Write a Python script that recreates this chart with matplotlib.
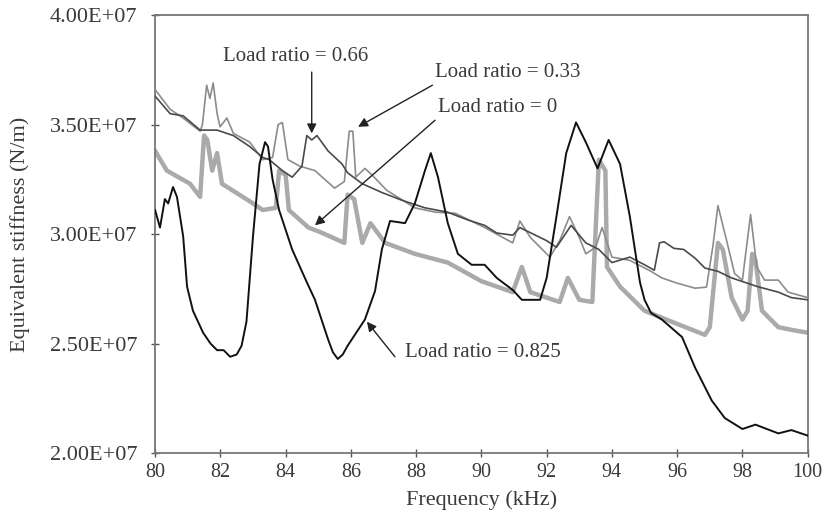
import matplotlib
matplotlib.use("Agg")
import matplotlib.pyplot as plt
from matplotlib.ticker import FuncFormatter
import numpy as np

# values in units of 1E+07 N/m, frequency in kHz
f_r0 = [80.0, 80.36, 81.07, 81.38, 81.5, 81.6, 81.75, 81.9, 82.05, 82.9, 83.3, 83.7, 83.8, 84.0, 84.1,
        84.7, 85.05, 85.8, 85.9, 86.1, 86.35, 86.6, 87.05, 87.96, 88.97, 90.0, 90.96, 91.24, 91.5,
        92.4, 92.65, 93.0, 93.4, 93.6, 93.8, 93.85, 94.25, 95.0, 96.0, 96.85, 97.0, 97.25, 97.4,
        97.67, 98.0, 98.16, 98.3, 98.4, 98.6, 99.1, 99.6, 100.0]
k_r0 = [3.38, 3.29, 3.23, 3.17, 3.45, 3.43, 3.29, 3.37, 3.23, 3.15, 3.11, 3.12, 3.29, 3.27, 3.11,
        3.03, 3.01, 2.96, 3.18, 3.16, 2.96, 3.05, 2.96, 2.91, 2.87, 2.785, 2.735, 2.85, 2.735,
        2.69, 2.80, 2.70, 2.69, 3.34, 3.29, 2.85, 2.76, 2.65, 2.59, 2.54, 2.575, 2.96, 2.93,
        2.71, 2.61, 2.65, 2.91, 2.88, 2.65, 2.575, 2.56, 2.55]

f_r33 = [80.0, 80.46, 80.86, 81.38, 81.45, 81.58, 81.68, 81.78, 81.9, 81.99, 82.2, 82.4, 82.9, 83.3,
         83.6, 83.77, 83.9, 84.07, 84.44, 84.9, 85.5, 85.8, 85.95, 86.06, 86.15, 86.43, 86.65, 87.1,
         87.96, 88.6, 89.2, 90.1, 90.96, 91.18, 91.5, 92.1, 92.4, 92.7, 93.0, 93.2, 93.5, 93.7,
         94.0, 94.55, 95.2, 95.53, 96.0, 96.55, 96.9, 97.1, 97.25, 97.5, 97.76, 98.0, 98.25,
         98.44, 98.68, 99.1, 99.4, 100.0]
k_r33 = [3.66, 3.57, 3.53, 3.47, 3.50, 3.68, 3.62, 3.69, 3.55, 3.49, 3.53, 3.46, 3.42, 3.34,
         3.35, 3.50, 3.51, 3.34, 3.31, 3.29, 3.21, 3.24, 3.47, 3.47, 3.26, 3.30, 3.27, 3.20,
         3.12, 3.10, 3.095, 3.03, 2.96, 3.06, 2.985, 2.895, 2.97, 3.08, 2.985, 2.91, 2.94, 3.03,
         2.895, 2.88, 2.83, 2.80, 2.776, 2.753, 2.758, 2.95, 3.13, 2.98, 2.82, 2.79, 3.09,
         2.85, 2.79, 2.79, 2.735, 2.71]

f_r66 = [80.0, 80.46, 80.86, 81.38, 81.9, 82.4, 82.9, 83.3, 83.5, 83.9, 84.2, 84.5, 84.65, 84.8,
         84.96, 85.3, 85.73, 85.9, 86.35, 86.95, 87.56, 88.27, 88.97, 89.58, 90.1, 90.47, 90.96,
         91.18, 92.0, 92.3, 92.75, 93.2, 93.6, 94.0, 94.55, 95.0, 95.3, 95.46, 95.6, 95.9, 96.2,
         96.55, 96.85, 97.25, 97.67, 98.07, 98.47, 99.1, 99.5, 100.0]
k_r66 = [3.63, 3.55, 3.54, 3.475, 3.475, 3.45, 3.40, 3.35, 3.34, 3.29, 3.26, 3.31, 3.45, 3.43,
         3.45, 3.38, 3.32, 3.28, 3.23, 3.19, 3.155, 3.12, 3.10, 3.065, 3.04, 3.005, 2.995,
         3.03, 2.97, 2.94, 3.04, 2.96, 2.93, 2.87, 2.895, 2.86, 2.835, 2.96, 2.965, 2.935, 2.93,
         2.89, 2.845, 2.83, 2.80, 2.78, 2.76, 2.735, 2.71, 2.70]

f_r825 = [80.0, 80.15, 80.3, 80.4, 80.55, 80.67, 80.86, 80.98, 81.16, 81.47, 81.7, 81.9, 82.1, 82.3,
          82.5, 82.65, 82.8, 83.0, 83.2, 83.37, 83.46, 83.6, 83.8, 84.2, 84.65, 84.9, 85.3, 85.45,
          85.6, 85.75, 85.9, 86.43, 86.74, 86.95, 87.2, 87.66, 87.96, 88.27, 88.45, 88.67, 88.97,
          89.28, 89.7, 90.1, 90.47, 90.96, 91.24, 91.8, 92.0, 92.3, 92.6, 92.9, 93.2, 93.56, 93.9,
          94.25, 94.55, 94.86, 95.0, 95.2, 95.53, 96.15, 96.55, 97.06, 97.46, 98.0, 98.4, 99.1,
          99.5, 100.0]
k_r825 = [3.11, 3.03, 3.16, 3.14, 3.215, 3.17, 2.99, 2.76, 2.65, 2.55, 2.50, 2.47, 2.47, 2.44,
          2.45, 2.49, 2.60, 2.99, 3.32, 3.42, 3.40, 3.25, 3.11, 2.93, 2.78, 2.70, 2.52, 2.46,
          2.43, 2.45, 2.49, 2.61, 2.74, 2.93, 3.06, 3.05, 3.14, 3.29, 3.37, 3.26, 3.05,
          2.91, 2.86, 2.86, 2.80, 2.745, 2.70, 2.70, 2.80, 3.08, 3.37, 3.51, 3.42, 3.30, 3.43,
          3.32, 3.08, 2.78, 2.70, 2.64, 2.61, 2.53, 2.39, 2.24, 2.16, 2.11, 2.13, 2.09,
          2.105, 2.08]

plt.rcParams['font.family'] = ['Liberation Serif', 'DejaVu Serif']
txt = '#3a3a3a'

fig = plt.figure(figsize=(8.25, 5.22), dpi=100)
ax = fig.add_axes([0.188, 0.132, 0.791, 0.839])

sc = 1e7
ax.plot(f_r0, np.array(k_r0) * sc, color='#aaaaaa', lw=3.2, solid_joinstyle='round', zorder=2)
ax.plot(f_r33, np.array(k_r33) * sc, color='#8c8c8c', lw=1.2, zorder=3)
ax.plot(f_r66, np.array(k_r66) * sc, color='#4a4a4a', lw=1.2, zorder=3)
ax.plot(f_r825, np.array(k_r825) * sc, color='#111111', lw=1.4, zorder=4)

ax.set_xlim(80, 100)
ax.set_ylim(2e7, 4e7)
ax.set_xticks(np.arange(80, 101, 2))
ax.set_yticks(np.arange(2e7, 4.01e7, 0.5e7))
ax.yaxis.set_major_formatter(FuncFormatter(lambda v, p: f"{v:.2E}"))
ax.tick_params(axis='both', colors='#555555', labelcolor=txt,
               direction='inout', length=6, width=1)
ax.tick_params(axis='x', labelsize=14.5, pad=4)
ax.tick_params(axis='y', labelsize=16, pad=10)
for s in ax.spines.values():
    s.set_color('#777777')
    s.set_linewidth(1.3)

ax.set_xlabel('Frequency (kHz)', fontsize=16, color=txt, labelpad=6)
ax.set_ylabel('Equivalent stiffness (N/m)', fontsize=16, color=txt, labelpad=14)

arr = dict(arrowstyle='-|>', color='#222222', lw=1.0, mutation_scale=14, shrinkA=0, shrinkB=0)
ax.annotate('', xy=(84.8, 3.46e7), xytext=(84.8, 3.74e7), arrowprops=arr)
ax.text(84.32, 3.81e7, 'Load ratio = 0.66', fontsize=15, color=txt, ha='center', va='center')
ax.annotate('', xy=(86.22, 3.49e7), xytext=(88.5, 3.68e7), arrowprops=arr)
ax.text(90.81, 3.74e7, 'Load ratio = 0.33', fontsize=15, color=txt, ha='center', va='center')
ax.annotate('', xy=(84.9, 3.04e7), xytext=(88.58, 3.52e7), arrowprops=arr)
ax.text(90.5, 3.58e7, 'Load ratio = 0', fontsize=15, color=txt, ha='center', va='center')
ax.annotate('', xy=(86.49, 2.60e7), xytext=(87.35, 2.44e7), arrowprops=arr)
ax.text(90.05, 2.46e7, 'Load ratio = 0.825', fontsize=15, color=txt, ha='center', va='center')

fig.savefig('out.png', dpi=100, facecolor='white')
